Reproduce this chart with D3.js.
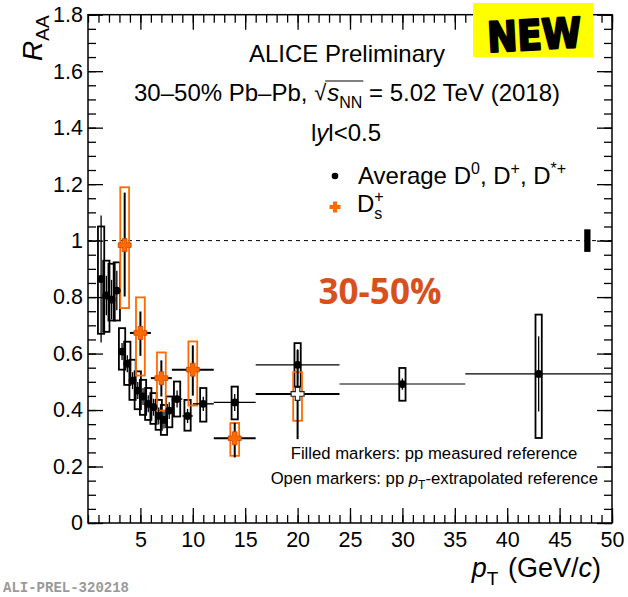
<!DOCTYPE html>
<html><head><meta charset="utf-8">
<script src="https://cdn.jsdelivr.net/npm/d3@7"></script>
<style>body{margin:0;background:#fff} svg{display:block} text{white-space:pre}</style>
</head><body>
<svg id="c" width="628" height="597"></svg>
<script>
// ---------------- data ----------------
// Average D0, D+, D*+ (pT bins, GeV/c)
const avgPtLo = [1,1.5,2,2.5,3,3.5,4,4.5,5,5.5,6,6.5,7,7.5,8,9,10,12,16,24,36];
const avgPtHi = [1.5,2,2.5,3,3.5,4,4.5,5,5.5,6,6.5,7,7.5,8,9,10,12,16,24,36,50];
const avgPt   = [1.25,1.75,2.25,2.75,3.25,3.75,4.25,4.75,5.25,5.75,6.25,6.75,7.25,7.75,8.5,9.5,11,14,20,30,43];
const avgR    = [0.864,0.806,0.791,0.823,0.607,0.564,0.504,0.469,0.448,0.422,0.410,0.379,0.365,0.398,0.439,0.379,0.422,0.427,0.560,0.492,0.528];
const avgStat = [0.225,0.07,0.07,0.07,0.03,0.03,0.03,0.03,0.03,0.03,0.03,0.03,0.03,0.03,0.03,0.025,0.025,0.03,0.055,0.02,0.133];
const avgSysLo = [0.670,0.677,0.717,0.717,0.543,0.489,0.436,0.403,0.383,0.365,0.351,0.330,0.312,0.339,0.377,0.327,0.359,0.367,0.483,0.433,0.301];
const avgSysHi = [1.050,0.929,0.918,0.923,0.690,0.642,0.578,0.537,0.507,0.478,0.460,0.436,0.418,0.448,0.501,0.436,0.478,0.483,0.637,0.549,0.738];

// Ds+
const dsPtLo = [3,4,6,8,12,16];
const dsPtHi = [4,6,8,12,16,24];
const dsPt   = [3.5,5,7,10,14,20];
const dsR    = [0.984,0.673,0.513,0.543,0.300,0.457];
const dsStatLo = [0.802,0.592,0.448,0.451,0.232,0.297];
const dsStatHi = [1.170,0.749,0.576,0.629,0.355,0.613];
const dsSysLo  = [0.761,0.522,0.398,0.416,0.238,0.362];
const dsSysHi  = [1.189,0.799,0.604,0.643,0.354,0.534];
const dsOpen   = [false,false,false,false,false,true];

// normalisation uncertainty
const normPt = 47.65;
const normUnc = 0.04;

// axes
const xMajorTicks = [5,10,15,20,25,30,35,40,45,50];
const yMajorTicks = [0,0.2,0.4,0.6,0.8,1,1.2,1.4,1.6,1.8];

// ---------------- drawing ----------------
const FONT = "'Liberation Sans', Arial, Helvetica, sans-serif";
const svg = d3.select("#c");
const X0 = 88, X1 = 612, Y0 = 523, Y1 = 14.7;
const x = d3.scaleLinear().domain([0,50]).range([X0,X1]);
const y = d3.scaleLinear().domain([0,1.8]).range([Y0,Y1]);

svg.append("rect").attr("width",628).attr("height",597).attr("fill","#fff");

function styleAxis(g){ g.selectAll("path.domain").remove(); g.selectAll("line").attr("stroke","#000").attr("stroke-width",1.3); }
const fmtY = d => d3.format("~g")(+(+d).toFixed(1));

// bottom
svg.append("g").attr("transform",`translate(0,${Y0})`)
  .call(d3.axisBottom(x).tickValues(d3.range(0,51,1)).tickSizeInner(-8).tickSizeOuter(0).tickFormat(""))
  .call(styleAxis);
const gb = svg.append("g").attr("transform",`translate(0,${Y0})`)
  .call(d3.axisBottom(x).tickValues(xMajorTicks).tickSizeInner(-15).tickSizeOuter(0).tickPadding(9))
  .call(styleAxis);
gb.selectAll("text").attr("font-family",FONT).attr("font-size",21.5).attr("fill","#000");
// top
svg.append("g").attr("transform",`translate(0,${Y1})`)
  .call(d3.axisTop(x).tickValues(d3.range(0,51,1)).tickSizeInner(-8).tickSizeOuter(0).tickFormat(""))
  .call(styleAxis);
svg.append("g").attr("transform",`translate(0,${Y1})`)
  .call(d3.axisTop(x).tickValues(xMajorTicks).tickSizeInner(-15).tickSizeOuter(0).tickFormat(""))
  .call(styleAxis);
// left
svg.append("g").attr("transform",`translate(${X0},0)`)
  .call(d3.axisLeft(y).tickValues(d3.range(0,1.801,0.05)).tickSizeInner(-8).tickSizeOuter(0).tickFormat(""))
  .call(styleAxis);
const gl = svg.append("g").attr("transform",`translate(${X0},0)`)
  .call(d3.axisLeft(y).tickValues(yMajorTicks).tickSizeInner(-15).tickSizeOuter(0).tickPadding(5).tickFormat(fmtY))
  .call(styleAxis);
gl.selectAll("text").attr("font-family",FONT).attr("font-size",21.5).attr("fill","#000");
// right
svg.append("g").attr("transform",`translate(${X1},0)`)
  .call(d3.axisRight(y).tickValues(d3.range(0,1.801,0.05)).tickSizeInner(-8).tickSizeOuter(0).tickFormat(""))
  .call(styleAxis);
svg.append("g").attr("transform",`translate(${X1},0)`)
  .call(d3.axisRight(y).tickValues(yMajorTicks).tickSizeInner(-15).tickSizeOuter(0).tickFormat(""))
  .call(styleAxis);
// frame
svg.append("rect").attr("x",X0).attr("y",Y1).attr("width",X1-X0).attr("height",Y0-Y1)
  .attr("fill","none").attr("stroke","#000").attr("stroke-width",1.5);

// reference line at 1
svg.append("line").attr("x1",X0).attr("x2",X1).attr("y1",y(1)).attr("y2",y(1))
  .attr("stroke","#000").attr("stroke-width",1).attr("stroke-dasharray","4,4");

// normalisation box
svg.append("rect").attr("x",x(normPt-0.3)).attr("width",x(normPt+0.3)-x(normPt-0.3))
  .attr("y",y(1+normUnc)).attr("height",y(1-normUnc)-y(1+normUnc)).attr("fill","#000");

// ---- systematics boxes
const avgIdx = d3.range(avgR.length), dsIdx = d3.range(dsR.length);
svg.append("g").selectAll("rect").data(avgIdx).join("rect")
  .attr("x",i=>x(avgPt[i]-0.3)).attr("width",i=>x(avgPt[i]+0.3)-x(avgPt[i]-0.3))
  .attr("y",i=>y(avgSysHi[i])).attr("height",i=>y(avgSysLo[i])-y(avgSysHi[i]))
  .attr("fill","none").attr("stroke","#000").attr("stroke-width",1.8);
svg.append("g").selectAll("rect").data(dsIdx).join("rect")
  .attr("x",i=>x(dsPt[i]-0.42)).attr("width",i=>x(dsPt[i]+0.42)-x(dsPt[i]-0.42))
  .attr("y",i=>y(dsSysHi[i])).attr("height",i=>y(dsSysLo[i])-y(dsSysHi[i]))
  .attr("fill","none").attr("stroke","#ff6a00").attr("stroke-width",1.8);

// ---- avg error bars
const ga = svg.append("g");
ga.selectAll("line.h").data(avgIdx).join("line").attr("class","h")
  .attr("x1",i=>x(avgPtLo[i])).attr("x2",i=>x(avgPtHi[i])).attr("y1",i=>y(avgR[i])).attr("y2",i=>y(avgR[i]))
  .attr("stroke","#000").attr("stroke-width",i=>avgPt[i]>20?1.1:1.4);
ga.selectAll("line.v").data(avgIdx).join("line").attr("class","v")
  .attr("x1",i=>x(avgPt[i])).attr("x2",i=>x(avgPt[i])).attr("y1",i=>y(avgR[i]+avgStat[i])).attr("y2",i=>y(avgR[i]-avgStat[i]))
  .attr("stroke","#000").attr("stroke-width",1.3);
ga.selectAll("circle").data(avgIdx).join("circle")
  .attr("cx",i=>x(avgPt[i])).attr("cy",i=>y(avgR[i])).attr("r",3.9).attr("fill","#000");

// ---- Ds error bars & markers
const plusPath = (a,b) => `M${-b},${-a}H${b}V${-b}H${a}V${b}H${b}V${a}H${-b}V${b}H${-a}V${-b}H${-b}Z`;
const gd = svg.append("g");
gd.selectAll("line.h").data(dsIdx).join("line").attr("class","h")
  .attr("x1",i=>x(dsPtLo[i])).attr("x2",i=>x(dsPtHi[i])).attr("y1",i=>y(dsR[i])).attr("y2",i=>y(dsR[i]))
  .attr("stroke","#000").attr("stroke-width",2);
gd.selectAll("line.v").data(dsIdx).join("line").attr("class","v")
  .attr("x1",i=>x(dsPt[i])).attr("x2",i=>x(dsPt[i])).attr("y1",i=>y(dsStatHi[i])).attr("y2",i=>y(dsStatLo[i]))
  .attr("stroke","#000").attr("stroke-width",2);
gd.selectAll("path").data(dsIdx).join("path")
  .attr("transform",i=>`translate(${x(dsPt[i])},${y(dsR[i])})`)
  .attr("d",plusPath(6.5,2.3))
  .attr("fill",i=>dsOpen[i]?"#fff":"#ff6a00")
  .attr("stroke",i=>dsOpen[i]?"#222":"#c84800").attr("stroke-width",i=>dsOpen[i]?1.2:0.8);

// ---------------- rich text helper ----------------
function rich(parent, segs, base, anchor){
  const g = parent.append("g");
  let cx = 0; const placed = [];
  segs.forEach(s=>{
    const size = s.size || base;
    const t = g.append("text").attr("x",cx + (s.dx||0)).attr("y",s.dy||0)
      .attr("font-family",s.family||FONT).attr("font-size",size)
      .attr("font-style",s.italic?"italic":null).attr("font-weight",s.bold?"bold":null)
      .attr("fill",s.fill||"#000").text(s.t);
    const w = t.node().getComputedTextLength();
    placed.push({x:cx+(s.dx||0), w});
    if(!s.stay) cx += w + (s.dx||0) + (s.after||0);
  });
  const shift = anchor==="middle" ? -cx/2 : anchor==="end" ? -cx : 0;
  g.selectAll("text").attr("x",function(){ return +d3.select(this).attr("x")+shift; });
  placed.forEach(p=>p.x+=shift);
  return {g, placed, width:cx};
}

// ---------------- texts ----------------
// y title
const gyt = svg.append("g").attr("transform","translate(42,61) rotate(-90)");
rich(gyt,[{t:"R",italic:true},{t:"AA",size:19,dy:7}],28,"start");

// x title
const gxt = svg.append("g").attr("transform","translate(601,577)");
rich(gxt,[{t:"p",italic:true},{t:"T",size:19,dy:8,after:2},{t:" (GeV/"},{t:"c",italic:true},{t:")"}],27,"end");

// header
const gh1 = svg.append("g").attr("transform","translate(347,62)");
rich(gh1,[{t:"ALICE Preliminary"}],24,"middle");
const gh2 = svg.append("g").attr("transform","translate(347,101)");
const r2 = rich(gh2,[{t:"30–50% Pb–Pb, "},{t:"√",size:22,dy:-1},{t:"s",italic:true,dx:1},{t:"NN",size:16,dy:7},{t:" = 5.02 TeV (2018)"}],24,"middle");
{
  const ps = r2.placed[1], pe = r2.placed[3];
  gh2.append("line").attr("x1",ps.x+ps.w-1).attr("x2",pe.x+pe.w+1).attr("y1",-20).attr("y2",-20)
    .attr("stroke","#000").attr("stroke-width",1);
}
const gh3 = svg.append("g").attr("transform","translate(311,141)");
rich(gh3,[{t:"l"},{t:"y",italic:true},{t:"l<0.5"}],24,"start");

// legend
svg.append("circle").attr("cx",335).attr("cy",176).attr("r",3.3).attr("fill","#000");
const gl1 = svg.append("g").attr("transform","translate(358,184)");
rich(gl1,[{t:"Average D"},{t:"0",size:16,dy:-10},{t:", D"},{t:"+",size:16,dy:-10},{t:", D"},{t:"*+",size:16,dy:-10}],24,"start");
svg.append("path").attr("transform","translate(335,207)").attr("d",plusPath(5.5,2)).attr("fill","#ff6a00");
const gl2 = svg.append("g").attr("transform","translate(357,212)");
rich(gl2,[{t:"D"},{t:"+",size:16,dy:-10,stay:true},{t:"s",size:16,dy:7}],24,"start");

// notes
const gn1 = svg.append("g").attr("transform","translate(434,459)");
rich(gn1,[{t:"Filled markers: pp measured reference"}],16.7,"middle");
const gn2 = svg.append("g").attr("transform","translate(598,484)");
rich(gn2,[{t:"Open markers: pp "},{t:"p",italic:true},{t:"T",size:12,dy:5},{t:"-extrapolated reference"}],16.7,"end");

// centrality label
svg.append("text").attr("x",380).attr("y",304).attr("text-anchor","middle")
  .attr("font-family","'Open Sans', sans-serif").attr("font-weight","bold").attr("font-size",35)
  .attr("fill","#d8501c").text("30-50%");

// NEW badge
svg.append("rect").attr("x",473).attr("y",3).attr("width",120).attr("height",54).attr("fill","#ffff00");
svg.append("text").attr("x",534).attr("y",47).attr("text-anchor","middle")
  .attr("font-family","'DejaVu Sans', sans-serif").attr("font-weight","bold").attr("font-size",36)
  .attr("stroke","#000").attr("stroke-width",2).attr("stroke-linejoin","round")
  .attr("transform","rotate(-3,534,30) translate(534,30) scale(1,1.15) translate(-534,-30)").attr("fill","#000").text("NEW");

// preliminary id
svg.append("text").attr("x",3).attr("y",592).attr("font-family","'Liberation Mono', 'DejaVu Sans Mono', monospace")
  .attr("font-weight","bold").attr("font-size",14).attr("fill","#9a9a9a").text("ALI-PREL-320218");
</script>
</body></html>
